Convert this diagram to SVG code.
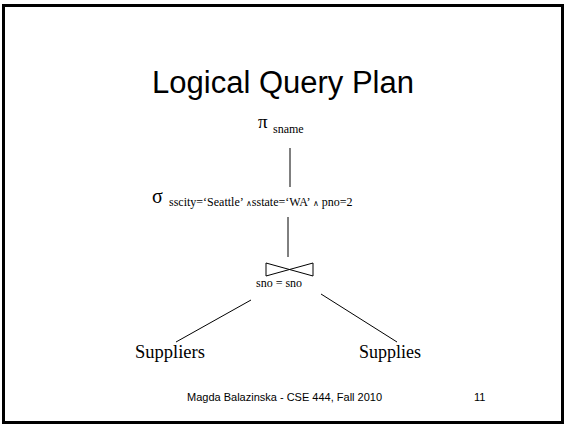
<svg xmlns="http://www.w3.org/2000/svg" width="565" height="424" viewBox="0 0 565 424">
<style>
.serif{font-family:"Liberation Serif","Times New Roman",serif;fill:#000}
.sans{font-family:"Liberation Sans",Arial,sans-serif;fill:#000}
.edge{stroke:#000;stroke-width:1;fill:none}
</style>
<rect x="0" y="0" width="565" height="424" fill="#fff"/>
<rect x="3.5" y="5.5" width="559" height="417" fill="none" stroke="#000" stroke-width="3"/>
<text class="sans" x="283" y="93" font-size="31" text-anchor="middle">Logical Query Plan</text>
<g id="connectors">
<line class="edge" x1="290" y1="148" x2="290" y2="187"/>
<line class="edge" x1="288" y1="217" x2="288" y2="257"/>
<line class="edge" x1="251" y1="300" x2="176" y2="342"/>
<line class="edge" x1="321" y1="294" x2="397" y2="342"/>
</g>
<g id="project">
<text class="serif" x="258" y="128" font-size="19">π</text>
<text class="serif" x="273" y="133" font-size="12">sname</text>
</g>
<g id="select">
<text class="serif" x="152" y="203" font-size="20">σ</text>
<text class="serif" x="169" y="206" font-size="12">sscity=‘Seattle’ <tspan font-size="8">∧</tspan>sstate=‘WA’ <tspan font-size="8">∧</tspan> pno=2</text>
</g>
<g id="join">
<path class="edge" d="M266,263 L313,276 L313,263 L266,276 Z"/>
<text class="serif" x="256" y="287" font-size="12">sno = sno</text>
</g>
<g id="suppliers">
<text class="serif" x="135" y="358" font-size="18.5">Suppliers</text>
</g>
<g id="supplies">
<text class="serif" x="359" y="358" font-size="18">Supplies</text>
</g>
<text class="sans" x="187" y="401" font-size="11">Magda Balazinska - CSE 444, Fall 2010</text>
<text class="sans" x="474" y="401" font-size="11">11</text>
</svg>
